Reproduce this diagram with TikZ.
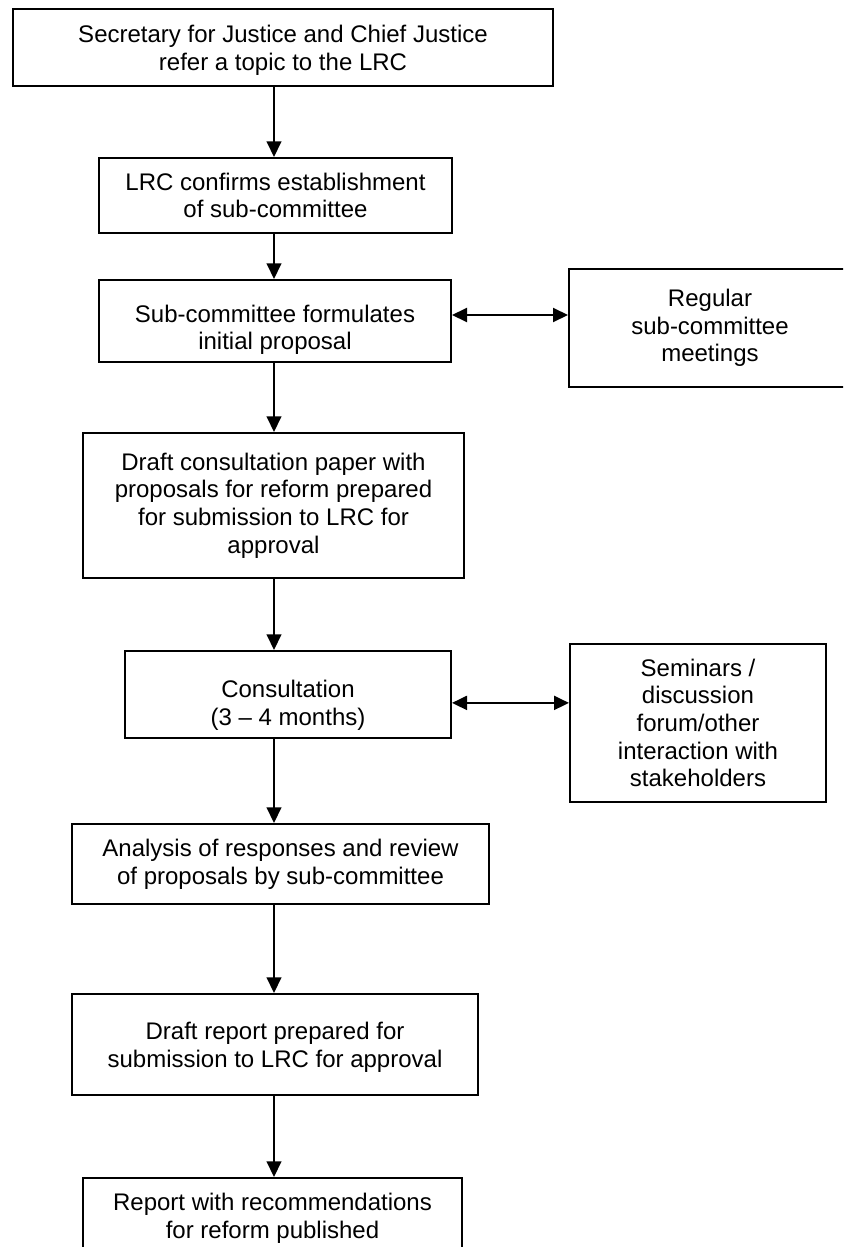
\documentclass[tikz,border=0pt]{standalone}
\usepackage{fontspec}
\setmainfont{Liberation Sans}
\usetikzlibrary{calc}
\usetikzlibrary{positioning}
\usetikzlibrary{arrows.meta}
\tikzstyle{box} = [draw,line width=1pt,align=center,inner sep=2pt,font=\fontsize{12}{13.8}\selectfont]
\tikzstyle{arrow} = [line width=1pt,-{Triangle[length=7.8pt,width=7.3pt]}]
\tikzstyle{both} = [line width=1pt,{Triangle[length=7.5pt,width=7pt]}-{Triangle[length=7.5pt,width=7pt]}]

\begin{document}
\begin{tikzpicture}[x=0.5pt,y=-0.5pt]
	\useasboundingbox (0,0) rectangle (843,1247);
	\clip (0,0) rectangle (843,1247);
	\node[box,minimum width=270pt,minimum height=38.5pt] (refer) at (283,47.5) {\rule{0pt}{11.5pt}Secretary for Justice and Chief Justice\\refer a topic to the LRC};
	\node[box,minimum width=176.5pt,minimum height=37.5pt] (confirm) at (275.5,195.5) {LRC confirms establishment\\of sub-committee};
	\node[box,minimum width=176pt,minimum height=41pt] (formulate) at (275,321) {\rule{0pt}{17.5pt}Sub-committee formulates\\initial proposal};
	\node[box,minimum width=141pt,minimum height=59pt] (meetings) at (710,328) {Regular\\sub-committee\\meetings};
	\node[box,minimum width=190.5pt,minimum height=72.5pt] (paper) at (273.5,505.5) {Draft consultation paper with\\proposals for reform prepared\\for submission to LRC for\\approval};
	\node[box,minimum width=163pt,minimum height=43.5pt] (consult) at (288,694.5) {\rule{0pt}{19.5pt}Consultation\\(3 -- 4 months)};
	\node[box,minimum width=128pt,minimum height=79pt] (seminars) at (698,723) {Seminars /\\discussion\\forum/other\\interaction with\\stakeholders};
	\node[box,minimum width=208.5pt,minimum height=40pt] (analysis) at (280.5,864) {Analysis of responses and review\\of proposals by sub-committee};
	\node[box,minimum width=203pt,minimum height=50.5pt] (report) at (275,1044.5) {\rule{0pt}{11.5pt}Draft report prepared for\\submission to LRC for approval};
	\node[box,minimum width=189.5pt,minimum height=40pt] (publish) at (272.5,1218) {Report with recommendations\\for reform published};
	\coordinate (spine) at (274,0);
	\draw[arrow] (refer.south -| spine) -- (confirm.north -| spine);
	\draw[arrow] (confirm.south -| spine) -- (formulate.north -| spine);
	\draw[arrow] (formulate.south -| spine) -- (paper.north -| spine);
	\draw[arrow] (paper.south -| spine) -- (consult.north -| spine);
	\draw[arrow] (consult.south -| spine) -- (analysis.north -| spine);
	\draw[arrow] (analysis.south -| spine) -- (report.north -| spine);
	\draw[arrow] (report.south -| spine) -- (publish.north -| spine);
	\draw[both] ([yshift=3pt]formulate.east) -- ([yshift=3pt]formulate.east -| meetings.west);
	\draw[both] ([yshift=-4.2pt]consult.east) -- ([yshift=-4.2pt]consult.east -| seminars.west);
\end{tikzpicture}
\end{document}
